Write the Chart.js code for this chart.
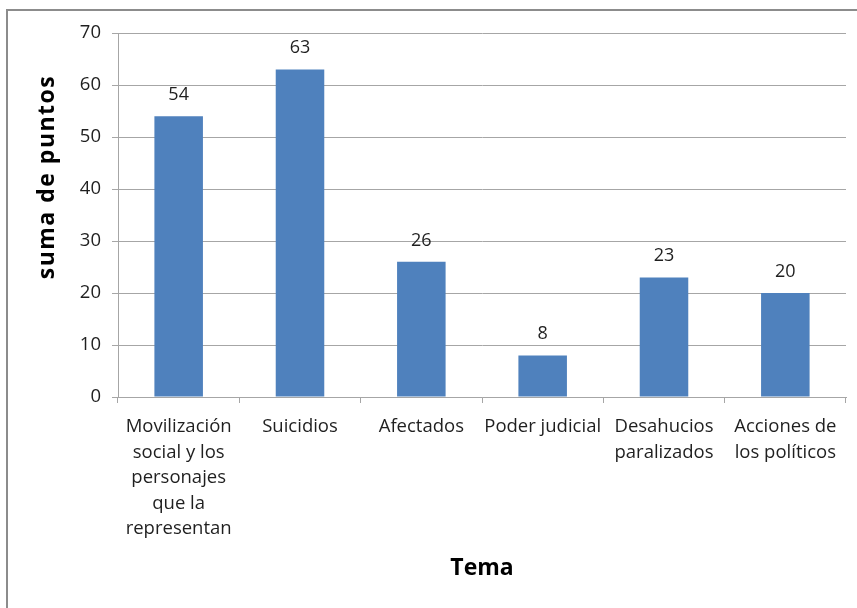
<!DOCTYPE html>
<html>
<head>
<meta charset="utf-8">
<script src="https://cdn.jsdelivr.net/npm/chart.js@4.4.1/dist/chart.umd.min.js"></script>
<style>
  html, body { margin: 0; padding: 0; background: #fff; overflow: hidden; }
  #frame {
    position: absolute; left: 6px; top: 9px; width: 900px; height: 700px;
    border-left: 2px solid #8c8c8c; border-top: 2px solid #8c8c8c;
  }
  #wrap { position: absolute; left: 0; top: 0; width: 857px; height: 608px; }
</style>
</head>
<body>
<div id="frame"></div>
<div id="wrap"><canvas id="chart" width="857" height="608"></canvas></div>
<script>
// Temas y puntos obtenidos
const categories = [
  ['Movilización', 'social y los', 'personajes', 'que la', 'representan'],
  'Suicidios',
  'Afectados',
  'Poder judicial',
  ['Desahucios', 'paralizados'],
  ['Acciones de', 'los políticos']
];
const puntos = [54, 63, 26, 8, 23, 20];
const yTicks = [0, 10, 20, 30, 40, 50, 60, 70];

const FONT = '"Open Sans", "Noto Sans", sans-serif';
const TEXT = '#1f1f1f';
const GRID = '#a6a6a6';

// Etiquetas de valor sobre cada barra
const valueLabels = {
  id: 'valueLabels',
  afterDatasetsDraw(chart) {
    const ctx = chart.ctx;
    const meta = chart.getDatasetMeta(0);
    ctx.save();
    ctx.font = '18px ' + FONT;
    ctx.fillStyle = TEXT;
    ctx.textAlign = 'center';
    ctx.textBaseline = 'alphabetic';
    meta.data.forEach((bar, i) => {
      ctx.fillText(String(chart.data.datasets[0].data[i]), bar.x, bar.y - 16);
    });
    ctx.restore();
  }
};

// Título del eje vertical
const yAxisTitle = {
  id: 'yAxisTitle',
  afterDraw(chart) {
    const ctx = chart.ctx;
    ctx.save();
    ctx.translate(47, 177);
    ctx.rotate(-Math.PI / 2);
    ctx.font = 'bold 23px ' + FONT;
    ctx.letterSpacing = '1.5px';
    ctx.fillStyle = '#000';
    ctx.textAlign = 'center';
    ctx.textBaseline = 'middle';
    ctx.fillText('suma de puntos', 0, 0);
    ctx.restore();
  }
};

new Chart(document.getElementById('chart'), {
  type: 'bar',
  data: {
    labels: categories,
    datasets: [{
      data: puntos,
      backgroundColor: '#4F81BD',
      borderWidth: 0,
      barPercentage: 0.4,
      categoryPercentage: 1.0
    }]
  },
  options: {
    responsive: false,
    animation: false,
    devicePixelRatio: 1,
    layout: { padding: { top: 33, right: 11, left: 0, bottom: 0 } },
    plugins: { legend: { display: false }, tooltip: { enabled: false } },
    scales: {
      x: {
        afterFit(s) { s.height = 211; },
        grid: {
          offset: true, drawOnChartArea: false, drawTicks: true,
          tickLength: 6, color: GRID
        },
        border: { color: GRID, width: 1 },
        ticks: {
          font: { family: FONT, size: 18.5, lineHeight: 1.38 },
          color: TEXT, padding: 11, maxRotation: 0, autoSkip: false
        },
        title: {
          display: true, text: 'Tema', color: '#000',
          font: { family: FONT, size: 23, weight: 'bold' },
          padding: { top: 0, bottom: 26 }
        }
      },
      y: {
        min: 0, max: 70,
        afterFit(s) { s.width = 118; },
        afterBuildTicks(s) { s.ticks = yTicks.map(v => ({ value: v })); },
        grid: { color: GRID, tickLength: 6 },
        border: { color: GRID, width: 1 },
        ticks: {
          font: { family: FONT, size: 18.5 },
          color: TEXT, padding: 11
        }
      }
    }
  },
  plugins: [valueLabels, yAxisTitle]
});
</script>
</body>
</html>
